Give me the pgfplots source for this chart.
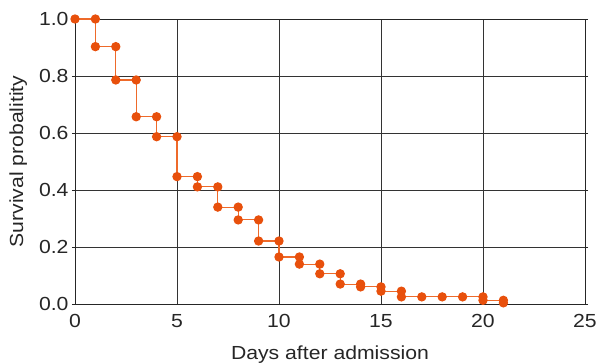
\documentclass[border=0pt]{standalone}
\usepackage{fontspec}
\setmainfont{Liberation Sans}[FakeStretch=1.12]
\usepackage{pgfplots}
\pgfplotsset{compat=1.18}
\definecolor{km}{HTML}{E8500C}
\definecolor{kmline}{HTML}{EE6A2A}
\begin{document}
\begin{tikzpicture}
\useasboundingbox (-75bp,-60bp) rectangle (522bp,304bp);
\begin{axis}[
  at={(0,0)}, anchor=south west,
  scale only axis, width=510bp, height=285bp,
  xmin=0, xmax=25, ymin=0, ymax=1,
  xtick={0,5,10,15,20,25},
  ytick={0,0.2,0.4,0.6,0.8,1.0},
  yticklabel style={/pgf/number format/.cd,fixed,fixed zerofill,precision=1},
  xticklabel style={yshift=-4bp},
  /pgf/number format/assume math mode=true,
  tick label style={font=\fontsize{19}{22}\selectfont, color=black!85},
  label style={font=\fontsize{19}{22}\selectfont, color=black!85},
  xlabel={Days after admission},
  ylabel={Survival probalitity},
  xlabel style={yshift=-11bp},
  ylabel style={yshift=5bp},
  grid=major,
  major grid style={black!80, line width=0.8pt},
  axis line style={black!85, line width=0.8pt},
  tick style={black!85, line width=0.8pt},
  tick align=outside, major tick length=3bp,
  xtick style={draw=none},
  clip=false,
]
\addplot[kmline, line width=1.1pt, mark=*, mark size=4.1bp, mark options={km, fill=km, draw=km}] coordinates {
(0,1.0) (1,1.0) (1,0.903) (2,0.903) (2,0.786) (3,0.786) (3,0.657) (4,0.657)
(4,0.587) (5,0.587) (5,0.447) (6,0.447) (6,0.411) (7,0.411) (7,0.340) (8,0.340)
(8,0.295) (9,0.295) (9,0.221) (10,0.221) (10,0.165) (11,0.165) (11,0.140) (12,0.140)
(12,0.106) (13,0.106) (13,0.070) (14,0.070) (14,0.060) (15,0.060) (15,0.045) (16,0.045)
(16,0.025) (17,0.025) (18,0.025) (19,0.025) (20,0.025) (20,0.013) (21,0.013) (21,0.004)
};
\end{axis}
\end{tikzpicture}
\end{document}
